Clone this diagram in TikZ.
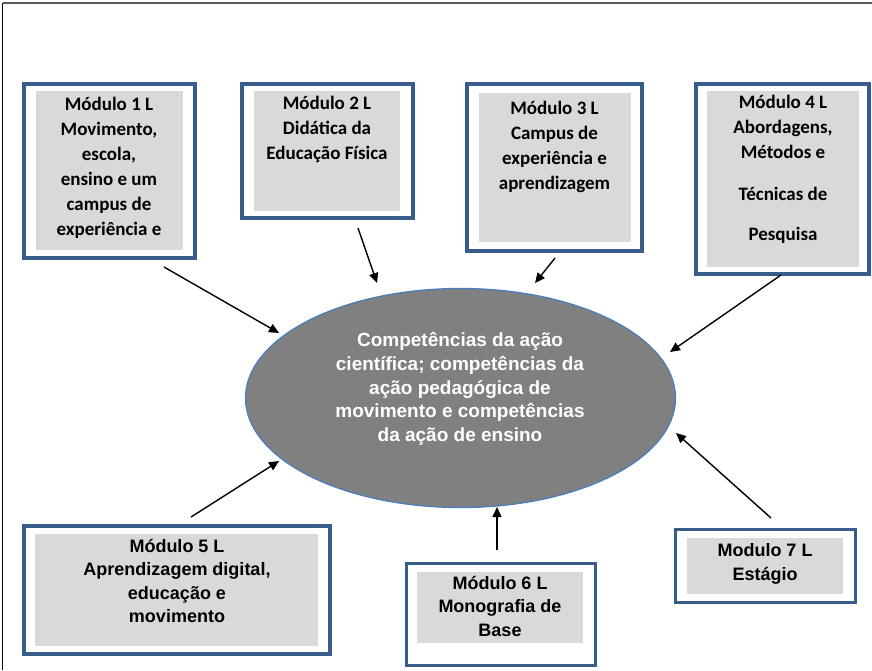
\documentclass[tikz,border=0pt]{standalone}
\usepackage{fontspec}
\usepackage{tikz}
\usetikzlibrary{arrows.meta,shapes.geometric}
\newfontfamily\calfont{Carlito}
\newfontfamily\arialfont{Liberation Sans}
\definecolor{boxblue}{HTML}{385D8A}
\definecolor{ovalblue}{HTML}{4A7EBB}
\definecolor{boxgray}{HTML}{D9D9D9}
\definecolor{ovalgray}{HTML}{808080}
\definecolor{framegray}{HTML}{595959}
\tikzset{%
        x = 1pt,
        y = -1pt,
        arrow/.style = {-{Triangle[length=10pt,width=9pt]}, line width=1.4pt, black}
}
\tikzstyle{modbox}=[
    draw = boxblue,
    fill = white,
    line width = 3.5pt,
    inner sep = 0pt
]
\tikzstyle{modfill}=[
    fill = boxgray,
    inner sep = 0pt
]
\tikzstyle{toptext}=[
    align = center,
    inner sep = 0pt,
    font = \calfont\bfseries\fontsize{19}{25}\selectfont
]
\tikzstyle{bottext}=[
    align = center,
    inner sep = 0pt,
    font = \arialfont\bfseries\fontsize{18}{23.5}\selectfont
]
\begin{document}
\begin{tikzpicture}
            \useasboundingbox (0,0) rectangle (872,670);
            \coordinate (tl) at (2.5,3);
            \coordinate (tr) at (872,3);
            \coordinate (bl) at (2.5,670);
            \draw[framegray, line width=2pt] (tl) -- (tr);
            \draw[black, line width=1.3pt] (tl) -- (bl);

            \node[ellipse, draw=ovalblue, fill=ovalgray, line width=1.3pt,
                  minimum width=430, minimum height=219] (core) at (460.5,398) {};
            \node[align=center, inner sep=0pt, text=white,
                  font=\arialfont\bfseries\fontsize{19}{23.6}\selectfont] (coret) at (460,389)
                {Competências da ação\\ científica; competências da\\ ação pedagógica de\\
                 movimento e competências\\ da ação de ensino};

            \node[modbox, minimum width=171, minimum height=174] (m1) at (109.5,171) {};
            \node[modfill, minimum width=147, minimum height=159] (m1f) at (109.5,170.5) {};
            \node[toptext] (m1t) at (109,167.5)
                {Módulo 1 L\\ Movimento,\\ escola,\\ ensino e um\\ campus de\\ experiência e};

            \node[modbox, minimum width=171, minimum height=134] (m2) at (327.5,151) {};
            \node[modfill, minimum width=146, minimum height=120] (m2f) at (327,151) {};
            \node[toptext] (m2t) at (327,129.5)
                {Módulo 2 L\\ Didática da\\ Educação Física};

            \node[modbox, minimum width=175, minimum height=167] (m3) at (554.5,167.5) {};
            \node[modfill, minimum width=152, minimum height=149] (m3f) at (555,167.5) {};
            \node[toptext] (m3t) at (554.5,147)
                {Módulo 3 L\\ Campus de\\ experiência e\\ aprendizagem};

            \node[modbox, minimum width=173, minimum height=190] (m4) at (782.5,179) {};
            \node[modfill, minimum width=152, minimum height=176] (m4f) at (783,179) {};
            \node[toptext] (m4t) at (783,169.5)
                {Módulo 4 L\\ Abordagens,\\ Métodos e\\[17pt] Técnicas de\\[15pt] Pesquisa};

            \node[modbox, minimum width=306, minimum height=128] (m5) at (177,590) {};
            \node[modfill, minimum width=283, minimum height=112] (m5f) at (176.5,590) {};
            \node[bottext] (m5t) at (177,581)
                {Módulo 5 L\\ Aprendizagem digital,\\ educação e\\ movimento};

            \node[modbox, minimum width=189, minimum height=102] (m6) at (501,614.5) {};
            \node[modfill, minimum width=166, minimum height=71] (m6f) at (500,607.5) {};
            \node[bottext] (m6t) at (500,606)
                {Módulo 6 L\\ Monografia de\\ Base};

            \node[modbox, minimum width=180, minimum height=73] (m7) at (765.5,566) {};
            \node[modfill, minimum width=156, minimum height=56] (m7f) at (765,566) {};
            \node[bottext] (m7t) at (765,564)
                {Modulo 7 L\\ Estágio};

            \coordinate (a1) at (164,267);
            \coordinate (b1) at (279,333);
            \coordinate (a2) at (358,228);
            \coordinate (b2) at (377,283);
            \coordinate (a3) at (555,258);
            \coordinate (b3) at (535,283);
            \coordinate (a4) at (781,275);
            \coordinate (b4) at (670,352);
            \coordinate (a5) at (191,517);
            \coordinate (b5) at (279,461);
            \coordinate (a6) at (497,550);
            \coordinate (b6) at (497,507);
            \coordinate (a7) at (771,518);
            \coordinate (b7) at (676,433);
            \foreach \i in {1,...,7}
                \draw[arrow] (a\i) -- (b\i);
        \end{tikzpicture}
\end{document}
